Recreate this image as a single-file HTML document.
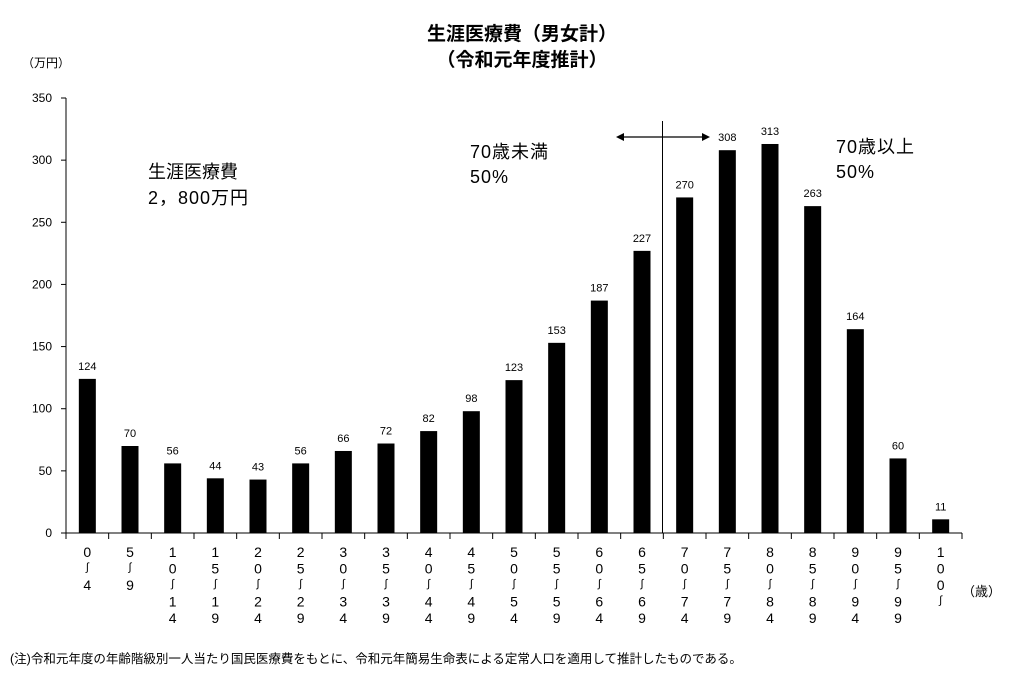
<!DOCTYPE html>
<html><head><meta charset="utf-8"><style>
body{margin:0;background:#fff;width:1015px;height:684px;overflow:hidden;font-family:"Liberation Sans","Noto Sans CJK JP",sans-serif}
</style></head><body>
<svg id="c" width="1015" height="684" xmlns="http://www.w3.org/2000/svg" font-family="Liberation Sans, Noto Sans CJK JP, sans-serif">
<text x="522" y="40" text-anchor="middle" font-size="19" font-weight="bold">生涯医療費（男女計）</text>
<text x="522" y="66" text-anchor="middle" font-size="19" font-weight="bold">（令和元年度推計）</text>
<text x="22" y="67" font-size="12">（万円）</text>
<text x="962" y="596" font-size="13">（歳）</text>
<text x="148" y="178" font-size="18">生涯医療費</text>
<text x="148" y="204" font-size="18" letter-spacing="1">2，800万円</text>
<text x="470" y="158" font-size="18" letter-spacing="1">70歳未満</text>
<text x="470" y="183" font-size="18" letter-spacing="1">50%</text>
<text x="836" y="153" font-size="18" letter-spacing="1">70歳以上</text>
<text x="836" y="178" font-size="18" letter-spacing="1">50%</text>
<line x1="662.5" y1="121" x2="662.5" y2="533" stroke="#000" stroke-width="1"/>
<g>
<line x1="622" y1="137" x2="704" y2="137" stroke="#000" stroke-width="1.2"/>
<polygon points="616,137 624,133 624,141" fill="#000"/>
<polygon points="710,137 702,133 702,141" fill="#000"/>
</g>
<text x="10" y="663" font-size="12.5">(注)令和元年度の年齢階級別一人当たり国民医療費をもとに、令和元年簡易生命表による定常人口を適用して推計したものである。</text>
<g id="plot"></g>
</svg>
<script>
const categories=[["0","4"],["5","9"],["10","14"],["15","19"],["20","24"],["25","29"],["30","34"],["35","39"],["40","44"],["45","49"],["50","54"],["55","59"],["60","64"],["65","69"],["70","74"],["75","79"],["80","84"],["85","89"],["90","94"],["95","99"],["100",""]];
const values=[124,70,56,44,43,56,66,72,82,98,123,153,187,227,270,308,313,263,164,60,11];
const yTicks=[0,50,100,150,200,250,300,350];
const NS='http://www.w3.org/2000/svg';
const g=document.getElementById('plot');
const X0=66,X1=962,Y0=533,Y1=98,YMAX=350;
const bw=(X1-X0)/categories.length;
const y=v=>Y0-(v/YMAX)*(Y0-Y1);
const xc=i=>X0+bw*(i+0.5);
function mk(t,a,txt){const e=document.createElementNS(NS,t);for(const k in a)e.setAttribute(k,a[k]);if(txt!=null)e.textContent=txt;g.appendChild(e);return e;}
let e=mk('line',{x1:X0,y1:Y1,x2:X0,y2:Y0,stroke:'#000'});


e=mk('line',{x1:X0,y1:Y0,x2:X1,y2:Y0,stroke:'#000'});


yTicks.forEach(t=>{
 let l=mk('line',{x1:X0-5,y1:y(t),x2:X0,y2:y(t),stroke:'#000'});
 
 
 let tx=mk('text',{x:X0-14,y:y(t)+4,'text-anchor':'end','font-size':12},String(t));
 
 
});
for(let i=0;i<=categories.length;i++){
 let l=mk('line',{x1:X0+bw*i,y1:Y0,x2:X0+bw*i,y2:Y0+6,stroke:'#000'});
 
 
}
values.forEach((v,i)=>{
 let r=mk('rect',{x:xc(i)-8.5,y:y(v),width:17,height:Y0-y(v),fill:'#000'});
 
 
 let t=mk('text',{x:xc(i),y:y(v)-9,'text-anchor':'middle','font-size':11},String(v));
 
 
 const c=categories[i];
 const chars=[...c[0].split(''),'～',...c[1].split('')];
 chars.forEach((ch,k)=>{
  let tt=mk('text',{x:xc(i),y:557+k*16.5,'text-anchor':'middle','font-size':14},ch==='～'?'∫':ch);
  if(ch==='～'){tt.setAttribute('font-size','11');tt.setAttribute('transform','translate(0,-3)');}
  
  
 });
});
</script>
</body></html>
